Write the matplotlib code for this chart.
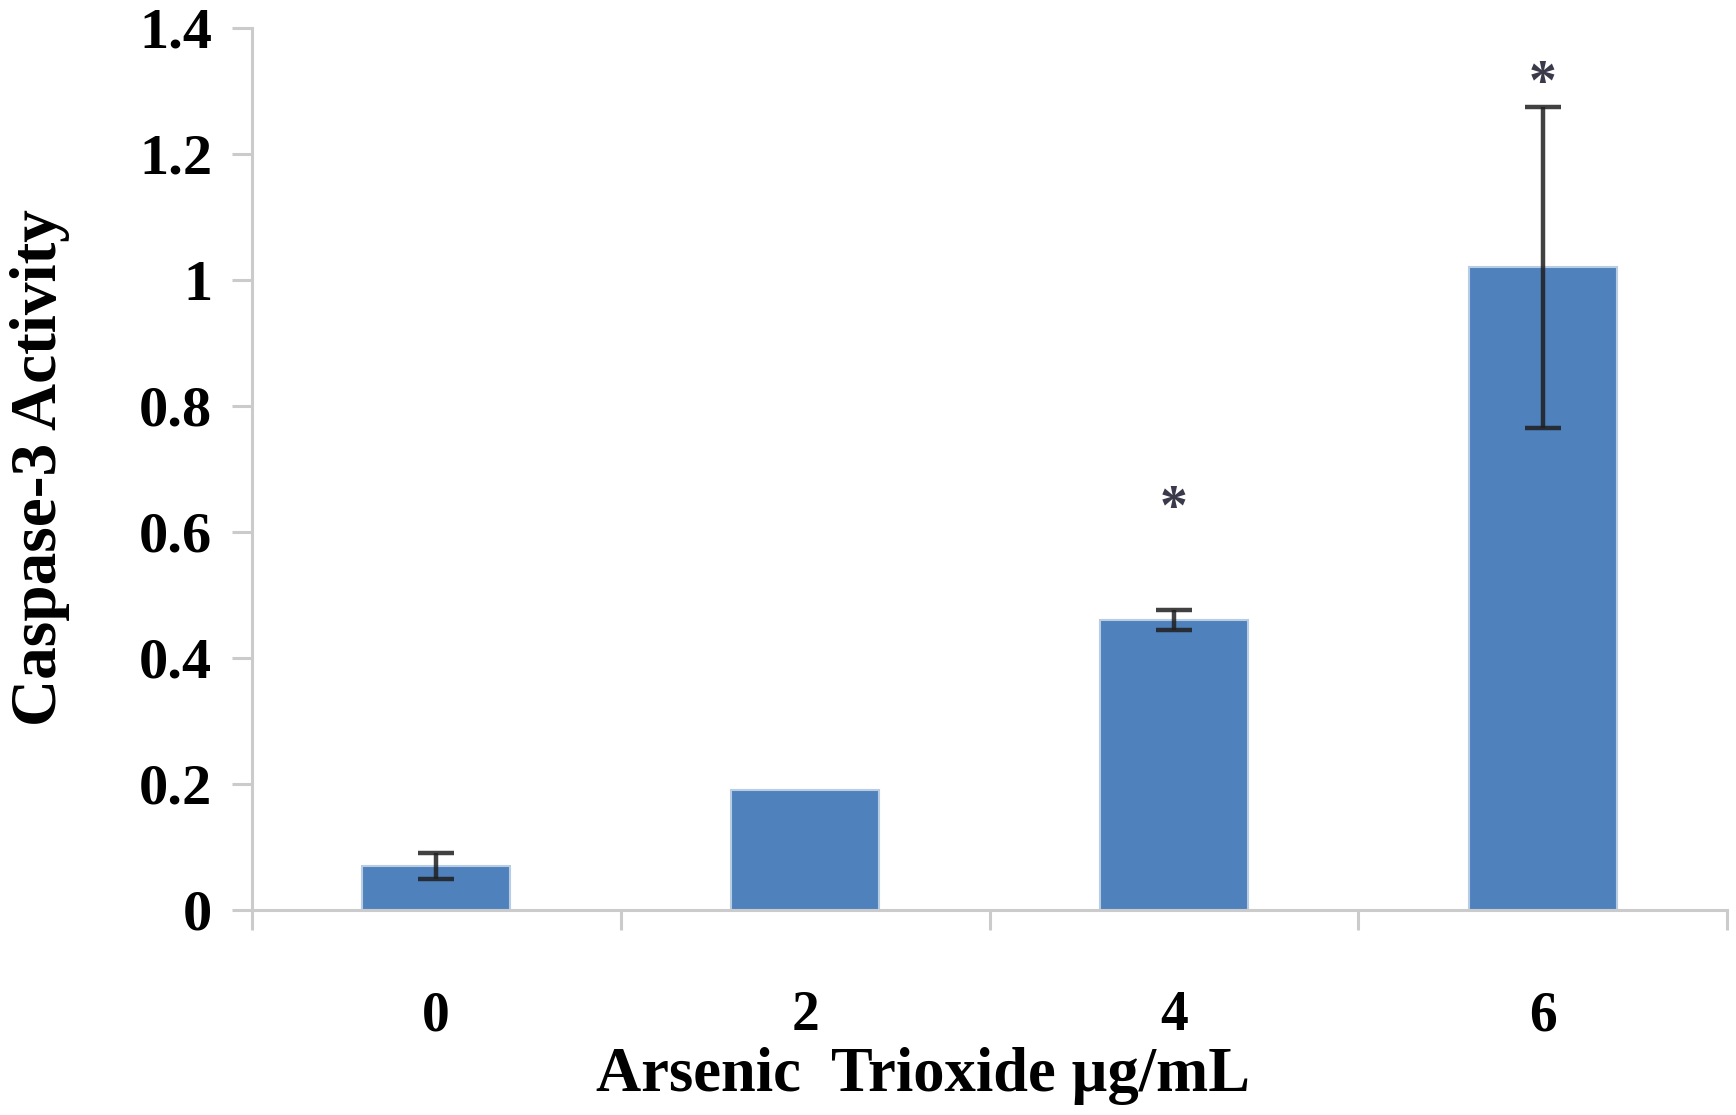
import matplotlib
matplotlib.use("Agg")
import matplotlib.pyplot as plt
import numpy as np


DOSES = ["0", "2", "4", "6"]
ACTIVITY = [0.07, 0.19, 0.46, 1.02]
ERRORS = [0.021, 0.0, 0.016, 0.255]
STAR_Y = [None, None, 0.635, 1.31]

Y_TICKS = [0, 0.2, 0.4, 0.6, 0.8, 1.0, 1.2, 1.4]
Y_TICK_LABELS = ["0", "0.2", "0.4", "0.6", "0.8", "1", "1.2", "1.4"]

AXIS_GREY = "#cbcbcb"
BAR_BLUE = "#4f81bd"


def main() -> None:
	plt.rcParams["font.family"] = ["Liberation Serif", "DejaVu Serif"]
	plt.rcParams["font.weight"] = "bold"

	fig = plt.figure(figsize=(17.36, 11.15), dpi=100)
	ax = fig.add_axes([0.145, 0.184, 0.85, 0.791])

	x = np.arange(len(DOSES))
	ax.bar(x, ACTIVITY, width=0.4, color=BAR_BLUE, edgecolor="#b8cce4", linewidth=1.5, zorder=2)

	# only bars that actually have an error bar drawn
	has_err = [i for i, e in enumerate(ERRORS) if e > 0]
	ax.errorbar(
		x[has_err], [ACTIVITY[i] for i in has_err], yerr=[ERRORS[i] for i in has_err],
		fmt="none", ecolor="#1f1f1f", elinewidth=3.2, capsize=13, capthick=3.2,
		alpha=0.85, zorder=3,
	)

	for xi, sy in zip(x, STAR_Y):
		if sy is not None:
			ax.text(xi, sy, "*", ha="center", va="center", fontsize=40,
				color="#3a3a4a", fontweight="bold", zorder=4)

	ax.set_xlim(-0.5, len(DOSES) - 0.5)
	ax.set_ylim(0, 1.4)

	ax.set_yticks(Y_TICKS)
	ax.set_yticklabels(Y_TICK_LABELS, fontsize=42, fontweight="bold")
	ax.tick_params(axis="y", direction="out", length=14.4, width=2.2, color=AXIS_GREY, pad=14)

	ax.set_xticks(x)
	ax.set_xticklabels(DOSES, fontsize=40, fontweight="bold")
	ax.set_xticks(np.arange(-0.5, len(DOSES)), minor=True)
	ax.tick_params(axis="x", which="major", length=0, pad=58)
	ax.tick_params(axis="x", which="minor", direction="out", length=14.4, width=2.2, color=AXIS_GREY)

	for side in ["top", "right"]:
		ax.spines[side].set_visible(False)
	for side in ["left", "bottom"]:
		ax.spines[side].set_color(AXIS_GREY)
		ax.spines[side].set_linewidth(2.2)

	ax.set_ylabel("Caspase-3 Activity", fontsize=47, fontweight="bold")
	ax.yaxis.set_label_coords(-0.123, 0.502)
	ax.set_xlabel("Arsenic  Trioxide µg/mL", fontsize=45, fontweight="bold")
	ax.xaxis.set_label_coords(0.455, -0.155)

	fig.savefig("out.png", dpi=100)


if __name__ == "__main__":
	main()
